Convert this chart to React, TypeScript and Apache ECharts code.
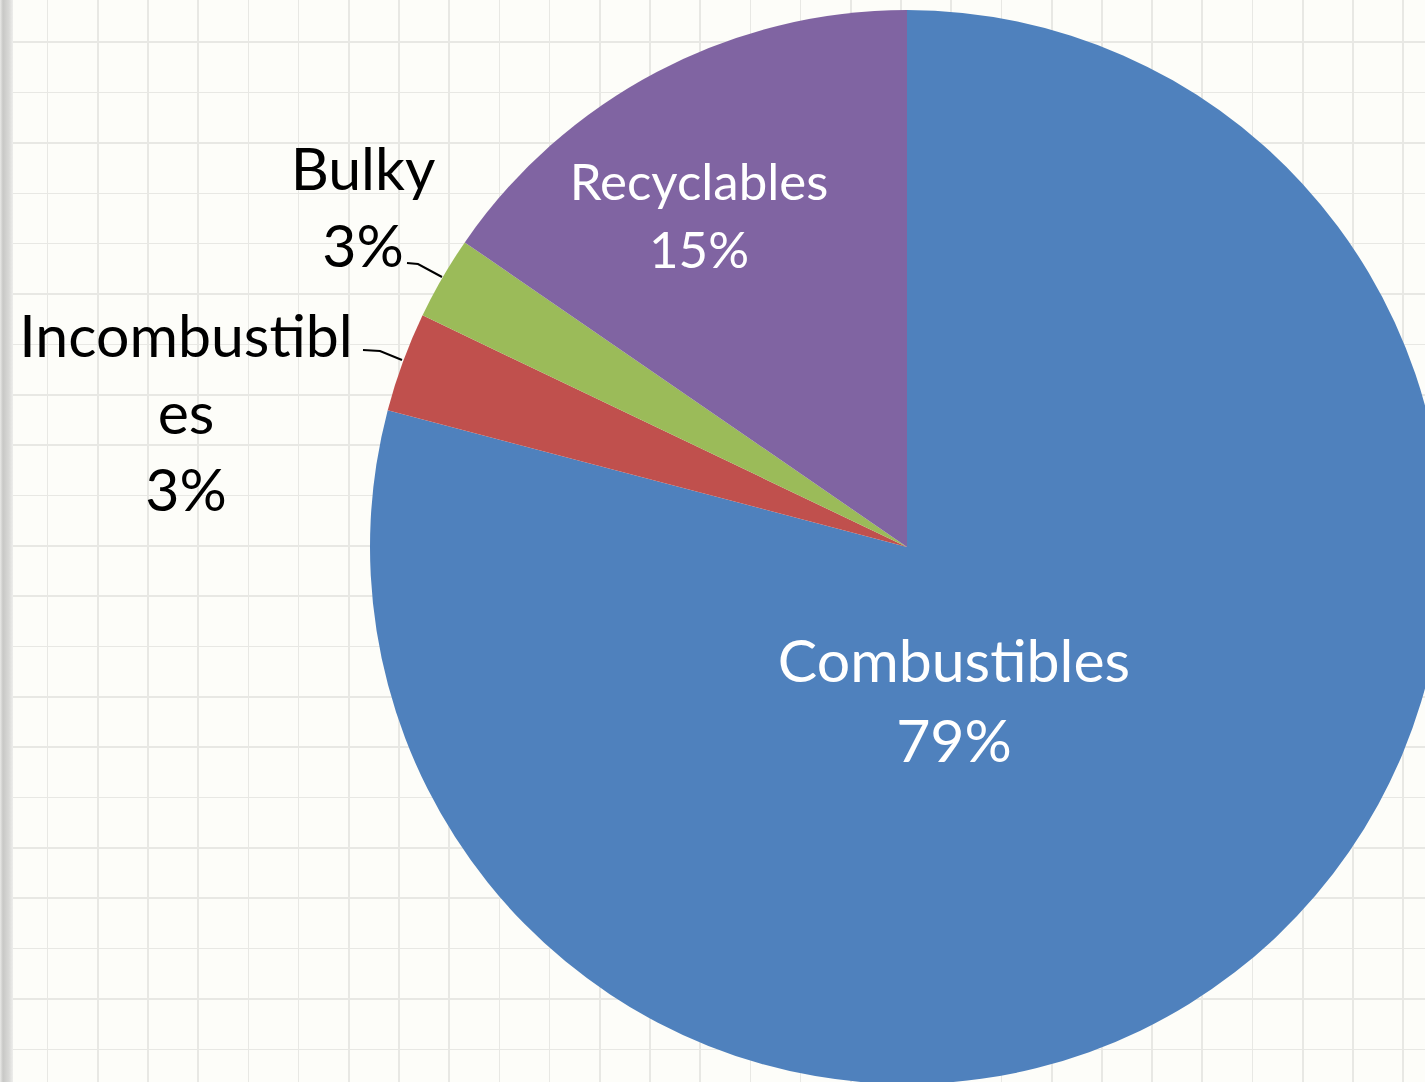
import React, { useEffect, useRef } from "react";
import * as echarts from "echarts";

const categories = ["Combustibles", "Incombustibles", "Bulky", "Recyclables"];
const values = [79.1, 3.0, 2.5, 15.4];
const colors = ["#4f81bd", "#c0504d", "#9bbb59", "#8064a2"];

// label placement (styling only)
const labelSpots: any[] = [
  { x: 954, y: 699, color: "#ffffff", size: 59, lh: 80, inside: true },
  { x: 186, y: 411, color: "#000000", size: 59, lh: 77, inside: false, line: [[363, 350], [380, 351], [402, 360]] },
  { x: 363, y: 206, color: "#000000", size: 59, lh: 77, inside: false, line: [[407, 263], [418, 264], [442, 277]] },
  { x: 699, y: 214, color: "#ffffff", size: 51, lh: 68, inside: true },
];

const FONT = "Lato";

export default function App() {
  const ref = useRef<HTMLDivElement>(null);
  useEffect(() => {
    if (!ref.current) return;
    const chart = echarts.init(ref.current, undefined, { renderer: "svg" });
    chart.setOption({
      animation: false,
      backgroundColor: "transparent",
      series: [
        {
          type: "pie",
          center: [907, 547],
          radius: 537,
          startAngle: 90,
          clockwise: true,
          avoidLabelOverlap: false,
          itemStyle: { borderWidth: 0 },
          data: categories.map((name, i) => ({
            name,
            value: values[i],
            itemStyle: { color: colors[i] },
            label: {
              show: true,
              position: labelSpots[i].inside ? "inside" : "outside",
              color: labelSpots[i].color,
              fontSize: labelSpots[i].size,
              lineHeight: labelSpots[i].lh,
              fontFamily: FONT,
              overflow: "none",
            },
            labelLine: {
              show: !labelSpots[i].inside,
              smooth: false,
              lineStyle: { color: "#000000", width: 2, opacity: 1 },
            },
          })),
          label: {
            formatter: (p: any) => {
              const n: string = p.name;
              const shown = n.length > 12 ? n.slice(0, 12) + "\n" + n.slice(12) : n;
              return shown + "\n" + Math.round(p.percent) + "%";
            },
          },
          labelLayout: (p: any) => {
            const s = labelSpots[p.dataIndex];
            const r: any = { x: s.x, y: s.y, align: "center", verticalAlign: "middle" };
            if (s.line) r.labelLinePoints = s.line;
            return r;
          },
        },
      ],
    });
    return () => chart.dispose();
  }, []);
  return (
    <div
      style={{
        position: "fixed",
        left: 0,
        top: 0,
        width: 1425,
        height: 1082,
        backgroundColor: "#fdfdf9",
        backgroundImage:
          "linear-gradient(to right, #e9e9e7 0px, #c8c8c6 3px, #d9d9d7 9px, #eeeeec 13px, rgba(0,0,0,0) 13.5px)," +
          "repeating-linear-gradient(to right, rgba(0,0,0,0) 0px, rgba(0,0,0,0) 46.9px, #e8e8e4 46.9px, #e8e8e4 48.5px, rgba(0,0,0,0) 48.5px, rgba(0,0,0,0) 50.2px)," +
          "repeating-linear-gradient(to bottom, rgba(0,0,0,0) 0px, rgba(0,0,0,0) 41.5px, #e8e8e4 41.5px, #e8e8e4 43.1px, rgba(0,0,0,0) 43.1px, rgba(0,0,0,0) 50.35px)",
      }}
    >
      <div ref={ref} style={{ width: 1425, height: 1082 }} />
    </div>
  );
}
